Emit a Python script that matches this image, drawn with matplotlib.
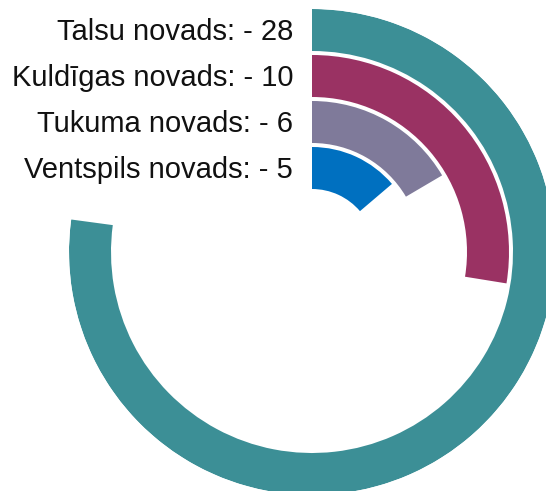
import numpy as np
import matplotlib.pyplot as plt

# data
regions = ['Talsu novads', 'Kuldīgas novads', 'Tukuma novads', 'Ventspils novads']
values = [28, 10, 6, 5]
colors = ['#3C8F96', '#9A3263', '#7F7A9A', '#0070C0']
scale_max = 36.3  # value that would make a full circle

W, H = 546, 491
fig = plt.figure(figsize=(W / 100, H / 100), dpi=100)

# polar axes in pixel-like radial units, centre at (312, 252) px
cx, cy, R = 312, 252, 243
ax = fig.add_axes([(cx - R) / W, (H - cy - R) / H, 2 * R / W, 2 * R / H],
                  projection='polar')
ax.set_theta_zero_location('N')
ax.set_theta_direction(-1)
ax.set_ylim(0, R)
ax.axis('off')

ring_w = 42
pitch = 46
for i, (name, v, c) in enumerate(zip(regions, values, colors)):
    r_mid = R - ring_w / 2 - i * pitch
    theta = v / scale_max * 2 * np.pi
    ax.barh(r_mid, theta, left=0, height=ring_w, color=c, edgecolor='none')
    # label to the left of where the ring starts
    y_px = cy - r_mid + 2
    fig.text(293 / W, 1 - y_px / H, f'{name}: - {v}', ha='right', va='center',
             fontsize=21, family='Liberation Sans', color='#111111')

fig.savefig('out.png', dpi=100)
